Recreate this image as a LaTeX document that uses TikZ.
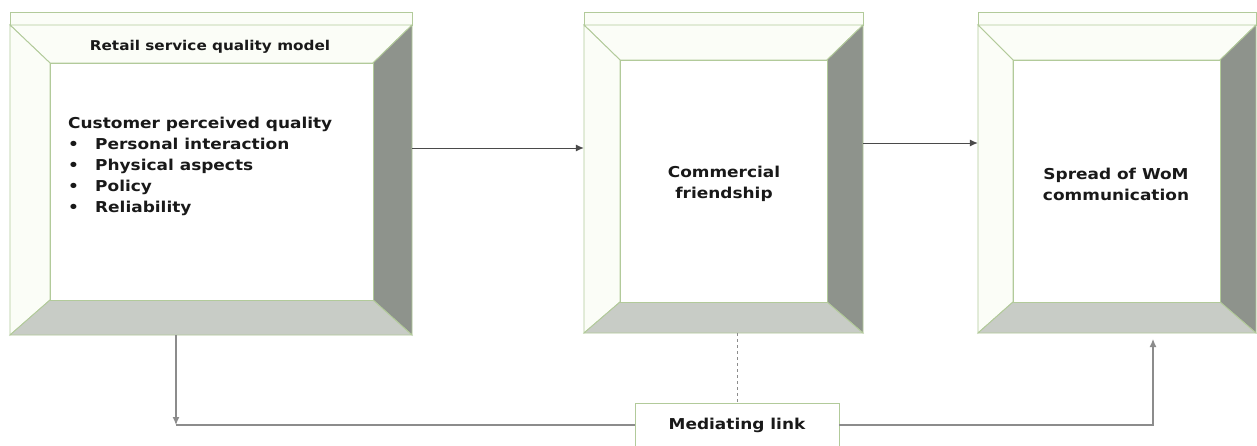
\documentclass[tikz,border=0pt]{standalone}
\usepackage{fontspec}
\newfontfamily\dfont{DejaVu Sans}[FakeStretch=1.13]
\usetikzlibrary{arrows.meta}
\definecolor{edgegreen}{HTML}{B2CA9A}
\definecolor{lightface}{HTML}{FBFDF7}
\definecolor{darkface}{HTML}{8E938C}
\definecolor{midface}{HTML}{C8CCC6}
\definecolor{linkgray}{HTML}{8C8C8C}
\definecolor{arrowdark}{HTML}{4A4A4A}
\newcommand\bevelbox[9]{%
  % #1 L, #2 T, #3 S (strip line), #4 R, #5 B, #6 l, #7 t, #8 r, #9 b
  \filldraw[edge, fill=lightface] (#1,#2) rectangle (#4,#3);
  \filldraw[edge, fill=lightface] (#1,#3) -- (#4,#3) -- (#8,#7) -- (#6,#7) -- cycle;
  \filldraw[edge, fill=lightface] (#1,#3) -- (#6,#7) -- (#6,#9) -- (#1,#5) -- cycle;
  \filldraw[edge, fill=darkface] (#4,#3) -- (#4,#5) -- (#8,#9) -- (#8,#7) -- cycle;
  \filldraw[edge, fill=midface] (#1,#5) -- (#4,#5) -- (#8,#9) -- (#6,#9) -- cycle;
  \filldraw[edge, fill=white] (#6,#7) rectangle (#8,#9);
}
\begin{document}
\begin{tikzpicture}[x=1pt,y=-1pt,
  edge/.style={draw=edgegreen, line width=0.9pt},
  outerbox/.style={draw=none, inner sep=0pt, minimum width=#1},
  bodytext/.style={font=\dfont\bfseries\fontsize{15}{21}\selectfont, inner sep=0pt, text=black!90},
  titletext/.style={font=\dfont\bfseries\fontsize{13.5}{16}\selectfont, inner sep=0pt, text=black!90},
  toparrow/.style={draw=arrowdark, line width=1pt, -{Latex[length=8pt,width=7pt]}},
  lowline/.style={draw=linkgray, line width=1.2pt},
  lowarrow/.style={draw=linkgray, line width=1.2pt, -{Latex[length=8pt,width=7pt]}},
  medbox/.style={draw=edgegreen, line width=0.9pt, fill=white, minimum width=204pt, minimum height=44pt, inner sep=0pt, font=\dfont\bfseries\fontsize{15}{18}\selectfont, text=black!90}
]
\useasboundingbox (0,0) rectangle (1257,445);
\fill[white] (0,0) rectangle (1257,445);

% boxes
\bevelbox{10}{12}{25}{412}{335}{50}{63}{373}{300}
\bevelbox{584}{12}{25}{863}{333}{620}{60}{827}{302}
\bevelbox{978}{12}{25}{1256}{333}{1013}{60}{1220}{302}

% invisible nodes naming the boxes
\node[outerbox=402pt, minimum height=323pt] (b1) at (211,173.5) {};
\node[outerbox=279pt, minimum height=321pt] (b2) at (723.5,172.5) {};
\node[outerbox=278pt, minimum height=321pt] (b3) at (1117,172.5) {};

% texts of box 1
\node[titletext] (t1) at (210,47) {Retail service quality model};
\node[bodytext, anchor=base west] (l0) at (68,128) {Customer perceived quality};
\node[bodytext, anchor=base west] (l1) at (68,149) {\makebox[27pt][l]{•}Personal interaction};
\node[bodytext, anchor=base west] (l2) at (68,170) {\makebox[27pt][l]{•}Physical aspects};
\node[bodytext, anchor=base west] (l3) at (68,191) {\makebox[27pt][l]{•}Policy};
\node[bodytext, anchor=base west] (l4) at (68,212) {\makebox[27pt][l]{•}Reliability};

% texts of boxes 2 and 3
\node[bodytext, align=center] (t2) at (724,184) {Commercial\\friendship};
\node[bodytext, align=center] (t3) at (1116,184) {Spread of WoM\\communication};

% mediating link box
\node[medbox] (med) at (737,425) {Mediating link};

% coordinates for connector ends
\coordinate (c1) at (176,425);
\coordinate (c3) at (1153,339);

% top arrows
\draw[toparrow] (b1.east |- 0,148) -- (b2.west |- 0,148);
\draw[toparrow] (b2.east |- 0,143) -- (b3.west |- 0,143);

% lower connectors
\draw[lowarrow] (c1 |- b1.south) -- (c1);
\draw[lowline] (c1) -- (med.west);
\draw[lowarrow] (med.east) -| (c3);
\draw[draw=linkgray, line width=1pt, dashed] (med.north |- b2.south) -- (med.north);
\end{tikzpicture}
\end{document}
